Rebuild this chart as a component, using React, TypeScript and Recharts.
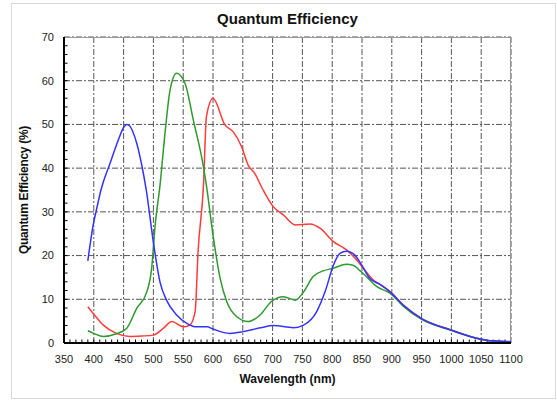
import React from "react";
import { LineChart, Line, XAxis, YAxis, CartesianGrid } from "recharts";

const redNm = [390, 400, 416, 438, 460, 480, 500, 517, 531, 550, 561, 570, 575, 584, 589, 600, 620, 634, 648, 659, 670, 684, 701, 718, 738, 763, 780, 802, 824, 841, 850, 870, 885, 900, 920, 950, 1000, 1042, 1065, 1100];
const redQe = [8.3, 6.6, 4.1, 2.2, 1.5, 1.6, 1.8, 3.4, 4.9, 3.7, 4.1, 7.2, 21, 36, 51.8, 56, 49.9, 48.3, 44.9, 40.7, 38.8, 35, 31.2, 29.3, 27, 27.2, 26.2, 23.2, 21.3, 19, 17.5, 14.3, 13, 11.4, 8.6, 5.6, 3.0, 1.1, 0.5, 0.3];

const greenNm = [390, 400, 416, 438, 455, 472, 489, 497, 503, 511, 520, 528, 539, 553, 567, 584, 589, 600, 612, 623, 640, 659, 679, 698, 718, 738, 752, 768, 785, 802, 824, 835, 847, 852, 875, 897, 920, 950, 1000, 1042, 1065, 1100];
const greenQe = [2.8, 2.2, 1.5, 2.1, 3.3, 7.9, 11.7, 17, 27, 36, 48.7, 57.9, 61.7, 59.4, 51, 40.3, 36, 24.7, 14.8, 9.5, 6.0, 4.9, 6.4, 9.5, 10.6, 9.8, 11.7, 15.2, 16.5, 17.1, 18, 17.8, 16.5, 15.9, 12.9, 11.4, 8.3, 5.4, 2.9, 1.1, 0.5, 0.3];

const blueNm = [390, 399, 405, 412, 427, 441, 450, 455, 460, 465, 472, 480, 488, 500, 511, 522, 539, 556, 572, 590, 600, 628, 651, 680, 701, 735, 752, 774, 788, 802, 813, 824, 838, 847, 863, 880, 897, 919, 950, 998, 1042, 1065, 1100];
const blueQe = [18.8, 27, 30.8, 35, 41, 46.4, 49.3, 50, 49.7, 48.5, 45.7, 41, 35, 23, 14, 9.8, 6.4, 4.5, 3.7, 3.7, 3.2, 2.2, 2.6, 3.5, 4, 3.5, 4.1, 7.2, 11.7, 17.8, 20.5, 21, 20.1, 18.4, 14.8, 13.4, 11.7, 8.7, 5.6, 3.0, 1.1, 0.5, 0.3];

const xTicks = [350, 400, 450, 500, 550, 600, 650, 700, 750, 800, 850, 900, 950, 1000, 1050, 1100];
const yTicks = [0, 10, 20, 30, 40, 50, 60, 70];
// minor tick marks: every 10 nm and every 2 %
const xMinor = Array.from({ length: 74 }, (_, i) => 360 + i * 10);
const yMinor = Array.from({ length: 34 }, (_, i) => 2 + i * 2);

const toPoints = (nm: number[], qe: number[]) =>
  nm.map((x, i) => ({ nm: x, qe: qe[i] }));

const redData = toPoints(redNm, redQe);
const greenData = toPoints(greenNm, greenQe);
const blueData = toPoints(blueNm, blueQe);

// short segments for the minor ticks and the top/right frame
const xMinorSegs = xMinor.map((v) => toPoints([v, v], [0, 0.8]));
const yMinorSegs = yMinor.map((v) => toPoints([350, 356], [v, v]));
const frameTop = toPoints([350, 1100], [70, 70]);
const frameRight = toPoints([1100, 1100], [0, 70]);

const font = "'Liberation Sans', Arial, sans-serif";

export default function App() {
  return (
    <div
      style={{
        position: "absolute",
        left: 0,
        top: 0,
        width: 557,
        height: 401,
        background: "#fff",
        fontFamily: font,
      }}
    >
      <div
        style={{
          position: "absolute",
          left: 11,
          top: 3,
          width: 543,
          height: 394,
          border: "1px solid #d9d9d9",
        }}
      />
      <div
        style={{
          position: "absolute",
          left: 0,
          width: 575,
          top: 10,
          textAlign: "center",
          fontWeight: "bold",
          fontSize: 15,
          color: "#111",
        }}
      >
        Quantum Efficiency
      </div>
      <div
        style={{
          position: "absolute",
          left: 64,
          width: 447,
          top: 372,
          textAlign: "center",
          fontWeight: "bold",
          fontSize: 12,
          color: "#111",
        }}
      >
        Wavelength (nm)
      </div>
      <div
        style={{
          position: "absolute",
          left: 24,
          top: 190,
          width: 0,
          height: 0,
        }}
      >
        <div
          style={{
            position: "absolute",
            transform: "translate(-50%, -50%) rotate(-90deg)",
            whiteSpace: "nowrap",
            fontWeight: "bold",
            fontSize: 12,
            letterSpacing: -0.3,
            color: "#111",
          }}
        >
          Quantum Efficiency (%)
        </div>
      </div>
      <LineChart
        width={557}
        height={401}
        margin={{ top: 37, right: 46, left: 14, bottom: 28 }}
        style={{ position: "absolute", left: 0, top: 0 }}
      >
        <CartesianGrid
          stroke="#555"
          strokeDasharray="6 2 2 2"
          strokeWidth={1}
          horizontalValues={yTicks}
          verticalValues={xTicks}
        />
        <XAxis
          dataKey="nm"
          type="number"
          domain={[350, 1100]}
          ticks={xTicks}
          interval={0}
          allowDataOverflow
          height={30}
          tickLine={false}
          tickMargin={6}
          axisLine={{ stroke: "#000", strokeWidth: 2 }}
          tick={{ fill: "#222", fontSize: 11, fontFamily: font }}
        />
        <YAxis
          dataKey="qe"
          type="number"
          domain={[0, 70]}
          ticks={yTicks}
          interval={0}
          allowDataOverflow
          width={50}
          tickLine={false}
          tickMargin={4}
          axisLine={{ stroke: "#000", strokeWidth: 2 }}
          tick={{ fill: "#222", fontSize: 11, fontFamily: font }}
        />
        <Line
          data={frameTop}
          dataKey="qe"
          type="linear"
          stroke="#999"
          strokeWidth={2}
          dot={false}
          activeDot={false}
          isAnimationActive={false}
        />
        <Line
          data={frameRight}
          dataKey="qe"
          type="linear"
          stroke="#999"
          strokeWidth={2}
          dot={false}
          activeDot={false}
          isAnimationActive={false}
        />
        {xMinorSegs.map((seg, i) => (
          <Line
            key={`xm${i}`}
            data={seg}
            dataKey="qe"
            type="linear"
            stroke="#000"
            strokeWidth={1}
            dot={false}
            activeDot={false}
            isAnimationActive={false}
          />
        ))}
        {yMinorSegs.map((seg, i) => (
          <Line
            key={`ym${i}`}
            data={seg}
            dataKey="qe"
            type="linear"
            stroke="#000"
            strokeWidth={1}
            dot={false}
            activeDot={false}
            isAnimationActive={false}
          />
        ))}
        <Line
          data={redData}
          dataKey="qe"
          type="monotone"
          stroke="#ff3b3b"
          strokeWidth={1.5}
          dot={false}
          isAnimationActive={false}
        />
        <Line
          data={greenData}
          dataKey="qe"
          type="monotone"
          stroke="#2e9a2e"
          strokeWidth={1.5}
          dot={false}
          isAnimationActive={false}
        />
        <Line
          data={blueData}
          dataKey="qe"
          type="monotone"
          stroke="#3333ff"
          strokeWidth={1.5}
          dot={false}
          isAnimationActive={false}
        />
      </LineChart>
    </div>
  );
}
